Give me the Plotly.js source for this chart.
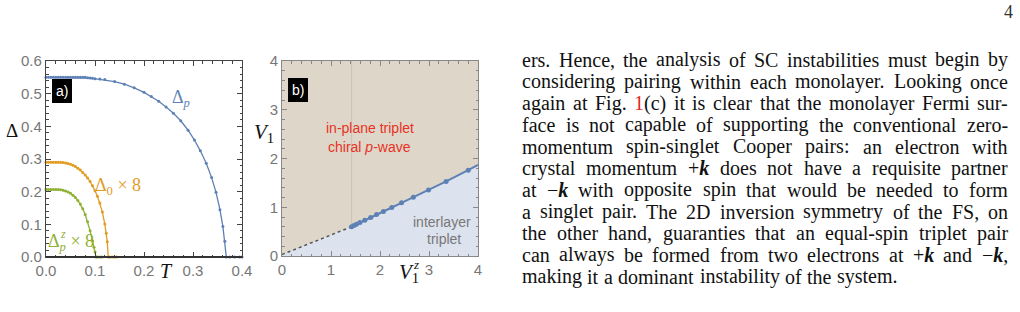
<!DOCTYPE html>
<html><head><meta charset="utf-8">
<script src="https://cdn.plot.ly/plotly-3.0.1.min.js"></script>
<style>html,body{margin:0;padding:0;background:#fff}#c{width:1020px;height:312px}</style>
</head><body><div id="c"></div>
<script>
// ---------- data: panel a ----------
const T_p = [0,0.005,0.01,0.015,0.02,0.025,0.03,0.035,0.04,0.045,0.05,0.055,0.06,0.065,0.07,0.075,0.08,0.085,0.09,0.095,0.10,0.11,0.12,0.14,0.16,0.18,0.20,0.215,0.23,0.245,0.26,0.275,0.29,0.303,0.315,0.327,0.338,0.347,0.355,0.361,0.365,0.368,0.375,0.385,0.395,0.40];
const D_p = [0.550,0.550,0.550,0.550,0.550,0.550,0.550,0.550,0.550,0.550,0.550,0.550,0.550,0.550,0.550,0.550,0.550,0.549,0.548,0.547,0.546,0.545,0.543,0.537,0.529,0.518,0.504,0.491,0.477,0.459,0.440,0.417,0.388,0.358,0.325,0.287,0.243,0.198,0.145,0.093,0.048,0.0,0.0,0.0,0.0,0.0];
const T_0 = [0,0.005,0.01,0.015,0.02,0.025,0.03,0.035,0.04,0.045,0.05,0.055,0.06,0.065,0.07,0.075,0.08,0.085,0.09,0.095,0.10,0.105,0.11,0.115,0.12,0.123,0.125,0.127,0.13,0.135,0.14,0.144];
const D_0 = [0.290,0.290,0.290,0.290,0.290,0.290,0.290,0.2895,0.288,0.286,0.284,0.281,0.277,0.272,0.266,0.259,0.251,0.242,0.231,0.218,0.203,0.186,0.165,0.138,0.101,0.073,0.047,0.0,0.0,0.0,0.0,0.0];
const T_z = [0,0.005,0.01,0.015,0.02,0.025,0.03,0.035,0.04,0.045,0.05,0.055,0.06,0.065,0.07,0.075,0.08,0.085,0.09,0.095,0.098,0.10,0.102,0.105,0.11,0.114];
const D_z = [0.207,0.207,0.207,0.207,0.207,0.207,0.206,0.204,0.202,0.199,0.195,0.189,0.182,0.173,0.162,0.148,0.130,0.108,0.080,0.050,0.030,0.016,0.0,0.0,0.0,0.0];
const ticksA_x = [0,0.1,0.2,0.3,0.4];
const ticksA_y = [0,0.1,0.2,0.3,0.4,0.5,0.6];
// ---------- data: panel b ----------
const dotV  = [0, 1.42];
const dotV1 = [0.03, 0.60];
const bndV  = [1.42,1.47,1.52,1.59,1.69,1.81,1.93,2.07,2.24,2.44,2.68,2.99,3.35,3.80,4.00];
const bndV1 = [0.600,0.625,0.650,0.685,0.733,0.790,0.850,0.915,0.995,1.090,1.205,1.355,1.530,1.760,1.870];
const markV  = bndV.slice(0, bndV.length-1);
const markV1 = bndV1.slice(0, bndV1.length-1);
const ticksB = [0,1,2,3,4];
// ---------- body text ----------
const bodyLines = [
 "ers. Hence, the analysis of SC instabilities must begin by",
 "considering pairing within each monolayer. Looking once",
 "again at Fig. <span style=\"color:#e3261c\">1</span>(c) it is clear that the monolayer Fermi sur-",
 "face is not capable of supporting the conventional zero-",
 "momentum spin-singlet Cooper pairs: an electron with",
 "crystal momentum +<b><i>k</i></b> does not have a requisite partner",
 "at \u2212<b><i>k</i></b> with opposite spin that would be needed to form",
 "a singlet pair. The 2D inversion symmetry of the FS, on",
 "the other hand, guaranties that an equal-spin triplet pair",
 "can always be formed from two electrons at +<b><i>k</i></b> and \u2212<b><i>k</i></b>,",
 "making it a dominant instability of the system."
];
const pageNum = "4";

// ---------- helpers ----------
const W = 1020, H = 312;
const BLUE = '#5E81B5', ORANGE = '#E19C24', GREEN = '#8FB032';
function A(text, xp, yp, o) {
  return Object.assign({xref:'paper', yref:'paper', x:xp/W, y:1-yp/H, text:text,
    showarrow:false, xanchor:'center', yanchor:'middle', borderpad:0, borderwidth:0}, o||{});
}
const SERIF = 'Liberation Serif', SANS = 'Liberation Sans';
const FS = 20;
const cv = document.createElement('canvas').getContext('2d');
function measure(tok) {
  let b=false, it=false, w=0;
  tok.split(/(<[^>]+>)/).forEach(p => {
    if (!p) return;
    if (p[0] === '<') {
      if (p==='<b>') b=true; else if (p==='</b>') b=false;
      else if (p==='<i>') it=true; else if (p==='</i>') it=false;
      return;
    }
    cv.font = (it?'italic ':'') + (b?'bold ':'') + FS + 'px "' + SERIF + '"';
    w += cv.measureText(p).width;
  });
  return w;
}
const annotations = [];
const L = 522, R = 1008, B0 = 66.7, LH = 21.67;
bodyLines.forEach((line, li) => {
  const words = line.split(/ (?![^<]*>)/);
  const ws = words.map(measure);
  const sum = ws.reduce((a,b)=>a+b,0);
  const last = li === bodyLines.length-1;
  cv.font = FS + 'px "' + SERIF + '"';
  const sp = last ? cv.measureText(' ').width*1.1 : (R-L-sum)/(words.length-1);
  let x = L;
  const base = B0 + li*LH;
  words.forEach((wd, i) => {
    annotations.push(A(wd, x, base-6.8, {xanchor:'left', font:{family:SERIF, size:FS, color:'#111'}}));
    x += ws[i] + sp;
  });
});
annotations.push(A(pageNum, 1013, 12, {xanchor:'right', font:{family:SERIF, size:18, color:'#333'}}));

// panel a labels
annotations.push(A('a)', 62, 91, {bgcolor:'#000', borderpad:4, font:{family:SANS, size:14, color:'#fff'}}));
annotations.push(A('\u0394<sub><i>p</i></sub>', 181, 98, {font:{family:SERIF, size:18, color:BLUE}}));
annotations.push(A('\u0394<sub>0</sub> \u00d7 8', 95, 186, {xanchor:'left', font:{family:SERIF, size:18, color:ORANGE}}));
annotations.push(A('\u0394<sub><i>p</i></sub> \u00d7 8', 48, 242, {xanchor:'left', font:{family:SERIF, size:18, color:GREEN}}));
annotations.push(A('<i>z</i>', 63, 234, {font:{family:SERIF, size:12, color:GREEN}}));
annotations.push(A('\u0394', 12, 130, {font:{family:SERIF, size:19, color:'#111'}}));
annotations.push(A('<i>T</i>', 166, 271, {font:{family:SERIF, size:20, color:'#111'}}));
// panel b labels
annotations.push(A('b)', 297.5, 90, {bgcolor:'#000', borderpad:4, font:{family:SANS, size:14, color:'#fff'}}));
annotations.push(A('in-plane triplet', 370, 128, {font:{family:SANS, size:14, color:'#E8321F'}}));
annotations.push(A('chiral <i>p</i>-wave', 369, 147, {font:{family:SANS, size:14, color:'#E8321F'}}));
annotations.push(A('interlayer', 442, 222, {font:{family:SANS, size:14, color:'#777'}}));
annotations.push(A('triplet', 444, 239, {font:{family:SANS, size:14, color:'#777'}}));
annotations.push(A('<i>V</i><sub>1</sub>', 264, 133, {font:{family:SERIF, size:21, color:'#111'}}));
annotations.push(A('<i>V</i><sub>1</sub>', 409, 273, {font:{family:SERIF, size:21, color:'#111'}}));
annotations.push(A('<i>z</i>', 416, 264, {font:{family:SERIF, size:13, color:'#111'}}));

// ---------- traces ----------
const ln = (x,y,c,xa,ya) => ({x:x, y:y, xaxis:xa, yaxis:ya, type:'scatter', mode:'lines+markers',
  line:{color:c, width:1.3}, marker:{color:c, size:3}, cliponaxis:false, hoverinfo:'skip', showlegend:false});
const traces = [
  ln(T_p, D_p, BLUE, 'x', 'y'),
  ln(T_0, D_0, ORANGE, 'x', 'y'),
  ln(T_z, D_z, GREEN, 'x', 'y'),
  {x:dotV.concat(bndV.slice(1)), y:dotV1.concat(bndV1.slice(1)), xaxis:'x2', yaxis:'y2', type:'scatter', mode:'lines',
    fill:'tozeroy', fillcolor:'#DDE3EE', line:{width:0, color:'rgba(0,0,0,0)'}, hoverinfo:'skip', showlegend:false},
  {x:dotV, y:dotV1, xaxis:'x2', yaxis:'y2', type:'scatter', mode:'lines',
    line:{color:'#555', width:1.5, dash:'dot'}, hoverinfo:'skip', showlegend:false},
  {x:bndV, y:bndV1, xaxis:'x2', yaxis:'y2', type:'scatter', mode:'lines',
    line:{color:BLUE, width:2}, hoverinfo:'skip', showlegend:false},
  {x:markV, y:markV1, xaxis:'x2', yaxis:'y2', type:'scatter', mode:'markers',
    marker:{color:BLUE, size:5}, hoverinfo:'skip', showlegend:false}
];

// ---------- axes ----------
function ax(o, col, lw) {
  return Object.assign({showgrid:false, zeroline:false, showline:true, linecolor:col, linewidth:lw,
    mirror:'allticks', ticks:'inside', ticklen:5, tickwidth:1, tickcolor:col,
    tickfont:{family:SANS, size:15, color:'#777'}, fixedrange:true}, o);
}
const layout = {
  width:W, height:H, margin:{l:0, r:0, t:0, b:0}, paper_bgcolor:'#fff', plot_bgcolor:'rgba(0,0,0,0)',
  showlegend:false,
  xaxis: ax({domain:[46/W, 242/W], range:[0,0.4], anchor:'y', tickvals:ticksA_x, ticktext:ticksA_x.map(v=>v.toFixed(1)),
    minor:{dtick:0.02, ticks:'inside', ticklen:2.5, tickcolor:'#444', showgrid:false}}, '#444', 1.2),
  yaxis: ax({domain:[(H-257)/H, (H-61)/H], range:[0,0.6], anchor:'x', tickvals:ticksA_y, ticktext:ticksA_y.map(v=>v.toFixed(1)),
    minor:{dtick:0.02, ticks:'inside', ticklen:2.5, tickcolor:'#444', showgrid:false}}, '#444', 1.2),
  xaxis2: ax({domain:[282/W, 478/W], range:[0,4], anchor:'y2', tickvals:ticksB, ticktext:ticksB.map(String),
    minor:{dtick:0.2, ticks:'inside', ticklen:2.5, tickcolor:'#888', showgrid:false}}, '#888', 1),
  yaxis2: ax({domain:[(H-256)/H, (H-61)/H], range:[0,4], anchor:'x2', tickvals:ticksB, ticktext:ticksB.map(String),
    minor:{dtick:0.2, ticks:'inside', ticklen:2.5, tickcolor:'#888', showgrid:false}}, '#888', 1),
  shapes: [
    {type:'rect', xref:'x2 domain', yref:'y2 domain', x0:0, x1:1, y0:0, y1:1, fillcolor:'#DDD6C9', line:{width:0}, layer:'below'},
    {type:'line', xref:'x2', yref:'y2 domain', x0:bndV[0], x1:bndV[0], y0:0, y1:1, line:{color:'rgba(110,110,110,0.18)', width:1}, layer:'below'},
    {type:'line', xref:'x domain', yref:'y domain', x0:0, x1:1, y0:0, y1:0, line:{color:'#333', width:2.2}}
  ],
  annotations: annotations
};
Plotly.newPlot('c', traces, layout, {staticPlot:true, displayModeBar:false});
</script>
</body></html>
